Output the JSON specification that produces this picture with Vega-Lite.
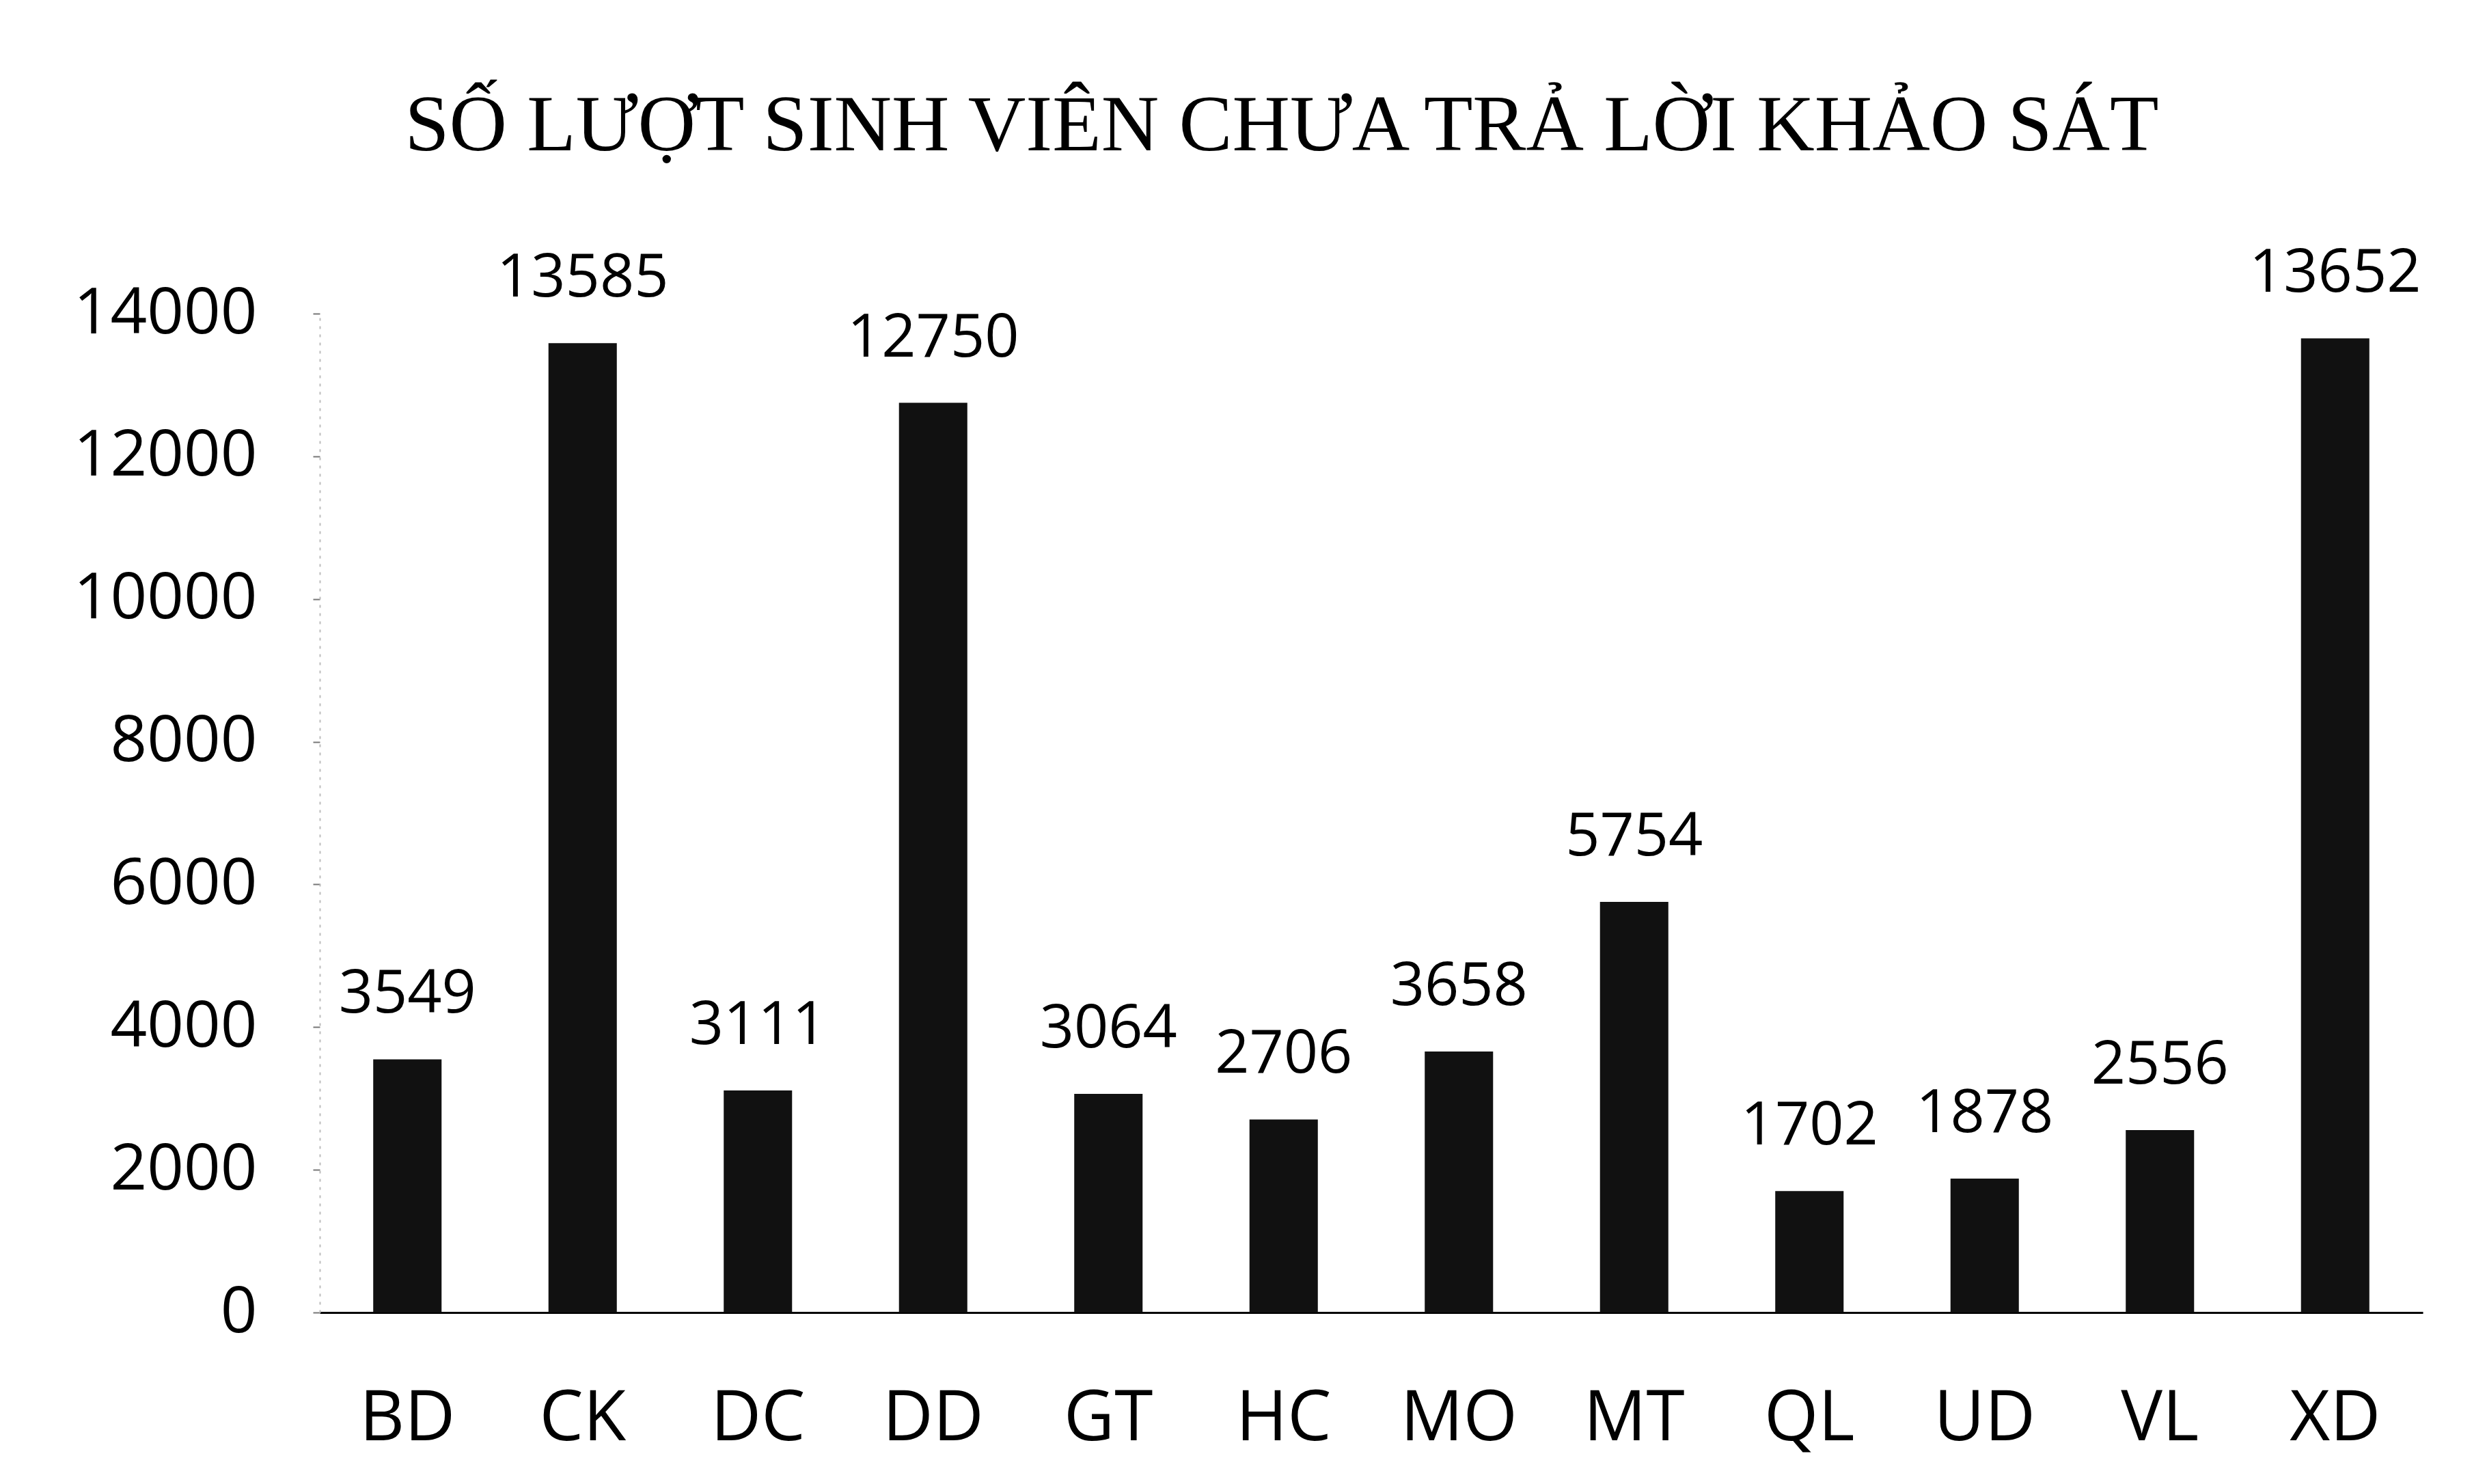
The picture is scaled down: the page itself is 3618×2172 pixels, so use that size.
{
  "$schema": "https://vega.github.io/schema/vega-lite/v6.json",
  "autosize": {"type": "none"},
  "width": 3078,
  "height": 1462,
  "padding": {"left": 468, "top": 459, "right": 72, "bottom": 251},
  "background": "white",
  "title": {
    "text": "SỐ LƯỢT SINH VIÊN CHƯA TRẢ LỜI KHẢO SÁT",
    "font": "Liberation Serif",
    "fontSize": 117,
    "fontWeight": "normal",
    "color": "#000000",
    "anchor": "middle",
    "dx": -131,
    "dy": -92,
    "offset": 20
  },
  "data": {
    "values": [
      {"khoa": "BD", "so_luot": 3549},
      {"khoa": "CK", "so_luot": 13585},
      {"khoa": "DC", "so_luot": 3111},
      {"khoa": "DD", "so_luot": 12750},
      {"khoa": "GT", "so_luot": 3064},
      {"khoa": "HC", "so_luot": 2706},
      {"khoa": "MO", "so_luot": 3658},
      {"khoa": "MT", "so_luot": 5754},
      {"khoa": "QL", "so_luot": 1702},
      {"khoa": "UD", "so_luot": 1878},
      {"khoa": "VL", "so_luot": 2556},
      {"khoa": "XD", "so_luot": 13652}
    ]
  },
  "encoding": {
    "x": {
      "field": "khoa",
      "type": "nominal",
      "sort": null,
      "scale": {"paddingInner": 0.61, "paddingOuter": 0.305},
      "axis": {
        "title": null,
        "labelAngle": 0,
        "labelFont": "Open Sans",
        "labelFontSize": 102,
        "labelColor": "#000000",
        "labelPadding": 105,
        "ticks": false,
        "domainColor": "#000000",
        "domainWidth": 3
      }
    },
    "y": {
      "field": "so_luot",
      "type": "quantitative",
      "scale": {"domain": [0, 14000], "nice": false},
      "axis": {
        "title": null,
        "values": [0, 2000, 4000, 6000, 8000, 10000, 12000, 14000],
        "format": "d",
        "labelLimit": 0,
        "grid": false,
        "labelFont": "Open Sans",
        "labelFontSize": 94,
        "labelColor": "#000000",
        "labelPadding": 82,
        "tickSize": 10,
        "tickColor": "#777777",
        "tickWidth": 2,
        "domainColor": "#bbbbbb",
        "domainWidth": 2,
        "domainDash": [4, 8]
      }
    }
  },
  "layer": [
    {
      "mark": {"type": "bar", "color": "#111111"}
    },
    {
      "mark": {
        "type": "text",
        "font": "Open Sans",
        "fontSize": 88,
        "color": "#000000",
        "baseline": "alphabetic",
        "align": "center",
        "dy": -68
      },
      "encoding": {
        "text": {"field": "so_luot", "type": "quantitative", "format": "d"}
      }
    }
  ],
  "config": {
    "view": {"stroke": null}
  }
}
